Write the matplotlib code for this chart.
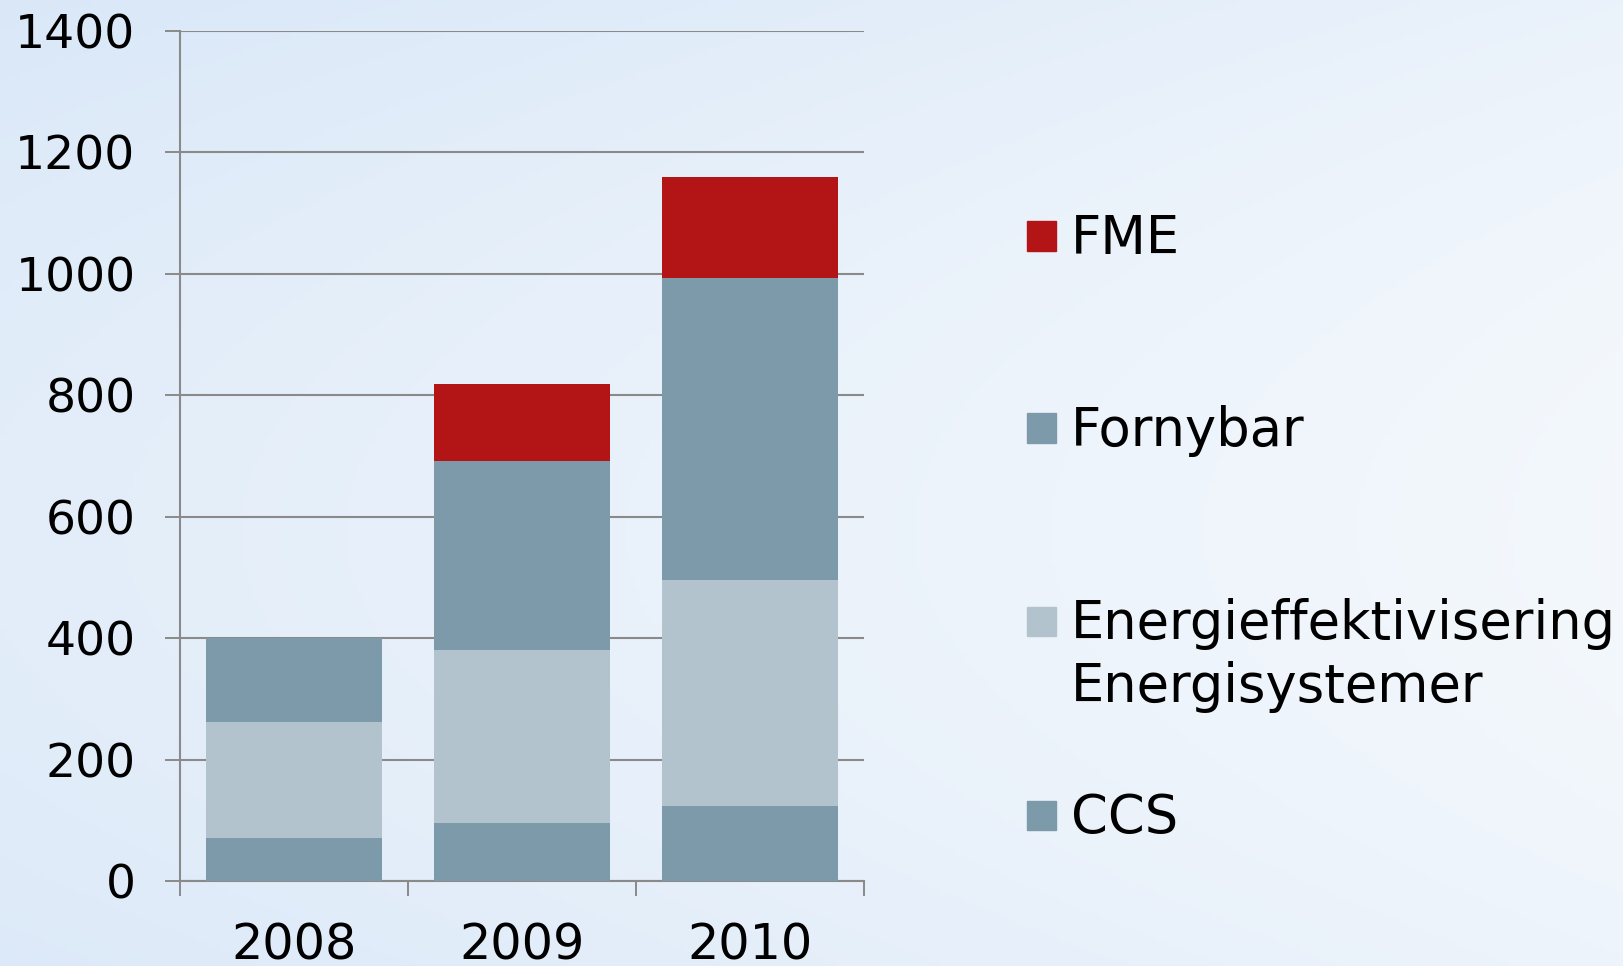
import numpy as np
import matplotlib.pyplot as plt
from matplotlib.patches import Rectangle

years = ['2008', '2009', '2010']
series = ['CCS', 'Energieffektivisering\nEnergisystemer', 'Fornybar', 'FME']
ccs = [70, 95, 124]
energi = [192, 286, 371]
fornybar = [138, 311, 498]
fme = [0, 127, 166]
colors = ['#7d9aaa', '#b2c3cd', '#7d9aaa', '#b31416']

fig = plt.figure(figsize=(16.24, 9.66), dpi=100)

# sky-ish background, plain gradient
bg = fig.add_axes([0, 0, 1, 1], zorder=-10)
yy, xx = np.mgrid[0:1:200j, 0:1:340j]
light = np.clip(0.35 + 0.55 * xx - 0.25 * (yy - 0.5) ** 2 * 4 + 0.1 * yy, 0, 1)
c_dark = np.array([0.84, 0.90, 0.97])
c_light = np.array([0.96, 0.975, 0.99])
img = c_dark + (c_light - c_dark) * light[..., None]
bg.imshow(img, aspect='auto', extent=[0, 1, 0, 1], origin='upper')
bg.axis('off')

ax = fig.add_axes([0.1108, 0.088, 0.4212, 0.8802])
ax.patch.set_alpha(0)

X = np.arange(len(years))
vals = [ccs, energi, fornybar, fme]
bottom = np.zeros(len(years))
for v, c in zip(vals, colors):
    ax.bar(X, v, bottom=bottom, width=0.77, color=c, zorder=3)
    bottom += np.array(v)

ax.set_xlim(-0.5, 2.5)
ax.set_ylim(0, 1400)
ax.set_yticks(range(0, 1401, 200))
ax.set_xticks(X, years)
ax.set_xticks([-0.5, 0.5, 1.5, 2.5], minor=True)
ax.tick_params(axis='x', which='major', length=0, pad=29, labelsize=35.5)
ax.tick_params(axis='x', which='minor', length=11, width=1.4, color='#8a8a8a')
ax.tick_params(axis='y', length=11, width=1.4, color='#8a8a8a', pad=21, labelsize=34)
ax.grid(axis='y', color='#8a8a8a', linewidth=1.5, zorder=1)
ax.set_axisbelow(True)
for s in ['top', 'right']:
    ax.spines[s].set_visible(False)
for s in ['left', 'bottom']:
    ax.spines[s].set_color('#8a8a8a')
    ax.spines[s].set_linewidth(1.5)

# legend drawn by hand so the square sits on the first line
leg_y = [815, 621, 428, 236]
W, H = 1624, 966
for name, c, y in zip(series, colors, leg_y):
    fig.add_artist(Rectangle(((1027) / W, (H - y - 14.5) / H), 29 / W, 29 / H,
                             transform=fig.transFigure, color=c))
    fig.text(1071 / W, (H - y - 3) / H, name.split('\n')[0], fontsize=38,
             va='center', ha='left')
    if '\n' in name:
        fig.text(1071 / W, (H - y - 66) / H, name.split('\n')[1], fontsize=38,
                 va='center', ha='left')

plt.savefig('out.png', dpi=100)
